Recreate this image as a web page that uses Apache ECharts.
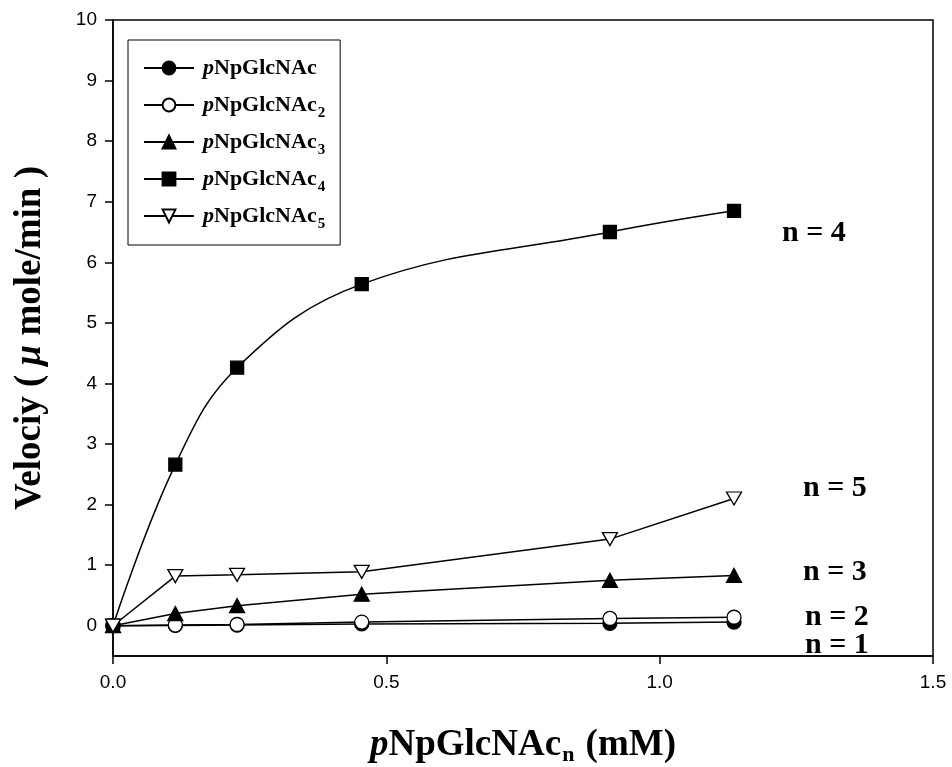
<!DOCTYPE html>
<html>
<head>
<meta charset="utf-8">
<script src="https://cdn.jsdelivr.net/npm/echarts@6/dist/echarts.min.js"></script>
<style>
html,body{margin:0;padding:0;background:#fff;}
#c{width:952px;height:767px;}
</style>
</head>
<body>
<div id="c"></div>
<script>
// ---- data ----
const xValues = [0, 0.114, 0.227, 0.455, 0.909, 1.136];
const seriesNames = ['pNpGlcNAc', 'pNpGlcNAc2', 'pNpGlcNAc3', 'pNpGlcNAc4', 'pNpGlcNAc5'];
const n1 = [0, 0.005, 0.01, 0.03, 0.04, 0.06];
const n2 = [0, 0.01, 0.02, 0.06, 0.12, 0.14];
const n3 = [0, 0.2, 0.33, 0.52, 0.75, 0.83];
const n4 = [0, 2.66, 4.26, 5.64, 6.5, 6.85];
const n5 = [0, 0.82, 0.84, 0.89, 1.43, 2.1];
const yTicks = [0, 1, 2, 3, 4, 5, 6, 7, 8, 9, 10];
const xTicks = [0, 0.5, 1.0, 1.5];
const nLabels = ['n = 4', 'n = 5', 'n = 3', 'n = 2', 'n = 1'];
const subscripts = [' ', '2', '3', '4', '5'];

const pair = ys => xValues.map((x, i) => [x, ys[i]]);
const serif = 'Liberation Serif';
const downTri = 'path://M0,0 L10,0 L5,9 Z';

const chart = echarts.init(document.getElementById('c'), null, {renderer: 'canvas'});

function mkSeries(name, ys, symbol, size, fill, smooth) {
  return {
    name: name, type: 'line', data: pair(ys),
    symbol: symbol, symbolSize: size, smooth: smooth || false,
    showAllSymbol: true,
    lineStyle: {color: '#000', width: 1.5},
    itemStyle: {color: fill, borderColor: '#000', borderWidth: 1.3},
    emphasis: {disabled: true},
    animation: false
  };
}

const option = {
  animation: false,
  backgroundColor: '#fff',
  grid: {left: 113, right: 19, top: 20, bottom: 111, show: true, outerBoundsMode: 'none', containLabel: false,
    borderColor: '#000', borderWidth: 1.5, backgroundColor: 'transparent'},
  xAxis: {
    type: 'value', min: 0, max: 1.5, interval: 0.5,
    axisLine: {show: true, onZero: false, lineStyle: {color: '#000', width: 1.5}},
    axisTick: {show: true, inside: false, length: 8, lineStyle: {color: '#000', width: 1.5}},
    splitLine: {show: false},
    axisLabel: {margin: 17, fontSize: 19, fontFamily: 'Liberation Sans', color: '#000',
      customValues: xTicks, formatter: v => v.toFixed(1)},
    name: '{i|p}{b|NpGlcNAc}{s|n}{b| (mM)}',
    nameLocation: 'middle', nameGap: 68,
    nameTextStyle: {
      fontFamily: serif, fontWeight: 'bold', fontSize: 37, color: '#000',
      rich: {
        i: {fontFamily: serif, fontWeight: 'bold', fontStyle: 'italic', fontSize: 37, color: '#000', lineHeight: 42},
        b: {fontFamily: serif, fontWeight: 'bold', fontSize: 37, color: '#000', lineHeight: 42},
        s: {fontFamily: serif, fontWeight: 'bold', fontSize: 22, color: '#000', lineHeight: 2, verticalAlign: 'bottom', padding: [0, 2, 0, 1]}
      }
    }
  },
  yAxis: {
    type: 'value', min: -0.5, max: 10,
    axisLine: {show: true, onZero: false, lineStyle: {color: '#000', width: 1.5}},
    axisTick: {show: true, inside: false, length: 8, customValues: yTicks, lineStyle: {color: '#000', width: 1.5}},
    splitLine: {show: false},
    axisLabel: {margin: 16, fontSize: 19, fontFamily: 'Liberation Sans', color: '#000', customValues: yTicks},
    name: '{b|Velociy ( }{i|μ}{b| mole/min )}',
    nameLocation: 'middle', nameGap: 64, nameRotate: 90,
    nameTextStyle: {
      fontFamily: serif, fontWeight: 'bold', fontSize: 37, color: '#000',
      rich: {
        i: {fontFamily: serif, fontWeight: 'bold', fontStyle: 'italic', fontSize: 37, color: '#000'},
        b: {fontFamily: serif, fontWeight: 'bold', fontSize: 37, color: '#000'}
      }
    }
  },
  legend: {
    orient: 'vertical', left: 128, top: 40,
    padding: [17, 15, 13, 15], itemGap: 10, itemWidth: 50, itemHeight: 16,
    borderColor: '#000', borderWidth: 1, backgroundColor: '#fff',
    data: seriesNames,
    selectedMode: false,
    formatter: function (name) {
      const idx = seriesNames.indexOf(name);
      return '{i|p}{b|NpGlcNAc}{s|' + subscripts[idx] + '}';
    },
    textStyle: {
      fontFamily: serif, fontWeight: 'bold', fontSize: 22, color: '#000',
      rich: {
        i: {fontFamily: serif, fontWeight: 'bold', fontStyle: 'italic', fontSize: 22, color: '#000', lineHeight: 32, padding: [0, 0, 0, 4]},
        b: {fontFamily: serif, fontWeight: 'bold', fontSize: 22, color: '#000', lineHeight: 32},
        s: {fontFamily: serif, fontWeight: 'bold', fontSize: 15, color: '#000', lineHeight: 2, verticalAlign: 'bottom', padding: [0, 0, 0, 1]}
      }
    }
  },
  series: [
    mkSeries(seriesNames[0], n1, 'circle', 14, '#000'),
    mkSeries(seriesNames[1], n2, 'circle', 14, '#fff'),
    mkSeries(seriesNames[2], n3, 'triangle', [15, 14], '#000'),
    mkSeries(seriesNames[3], n4, 'rect', 13, '#000', 0.4),
    mkSeries(seriesNames[4], n5, downTri, [15, 13], '#fff')
  ],
  graphic: [
    {type: 'text', left: 782, top: 235 - 17, style: {text: nLabels[0], font: 'bold 30px "Liberation Serif"', fill: '#000'}},
    {type: 'text', left: 803, top: 490 - 17, style: {text: nLabels[1], font: 'bold 30px "Liberation Serif"', fill: '#000'}},
    {type: 'text', left: 803, top: 574 - 17, style: {text: nLabels[2], font: 'bold 30px "Liberation Serif"', fill: '#000'}},
    {type: 'text', left: 805, top: 619 - 17, style: {text: nLabels[3], font: 'bold 30px "Liberation Serif"', fill: '#000'}},
    {type: 'text', left: 805, top: 647 - 17, style: {text: nLabels[4], font: 'bold 30px "Liberation Serif"', fill: '#000'}}
  ]
};
chart.setOption(option);
</script>
</body>
</html>
